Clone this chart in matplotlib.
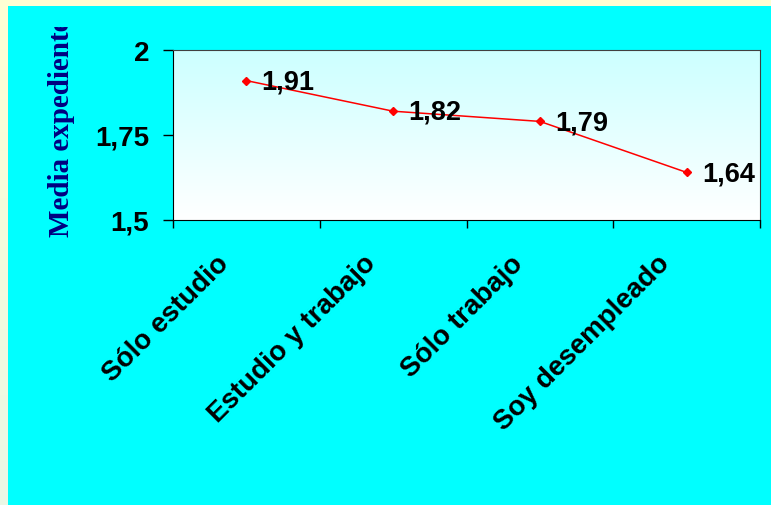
import matplotlib
matplotlib.use("Agg")
import matplotlib.pyplot as plt
import numpy as np
from matplotlib.transforms import Bbox, TransformedBbox, ScaledTranslation
from matplotlib.patches import Rectangle

categories = ["Sólo estudio", "Estudio y trabajo", "Sólo trabajo", "Soy desempleado"]
medias = [1.91, 1.82, 1.79, 1.64]
y_ticks = [1.5, 1.75, 2.0]
y_tick_labels = ["1,5", "1,75", "2"]
y_label = "Media expediente"

W, H, DPI = 771, 506, 100
fig = plt.figure(figsize=(W / DPI, H / DPI), dpi=DPI)
plt.rcParams["font.family"] = ["Liberation Sans", "DejaVu Sans"]

# background: pale yellow frame with cyan panel
bg = fig.add_axes([0, 0, 1, 1], zorder=-10)
grad = np.linspace(0, 1, 256)[:, None]
top_c = np.array([1.0, 1.0, 0.83])
bot_c = np.array([0.92, 0.97, 0.90])
img = top_c * (1 - grad[..., None]) + bot_c * grad[..., None]
bg.imshow(np.repeat(img, 2, axis=1), extent=[0, 1, 0, 1], aspect="auto", origin="upper")
bg.add_patch(Rectangle((8 / W, 0), 1, 1 - 7 / H, color="#00FFFF", lw=0))
bg.set_xlim(0, 1); bg.set_ylim(0, 1)
bg.axis("off")

# plot area
ax = fig.add_axes([173 / W, 1 - 221 / H, (760 - 173) / W, (221 - 51) / H])
n = len(categories)
x = np.arange(n) + 0.5
ax.set_xlim(0, n)
ax.set_ylim(1.5, 2.0)

g = np.linspace(0, 1, 256)[:, None, None]
area = np.array([0.80, 1.0, 1.0]) * (1 - g) + np.array([1.0, 1.0, 1.0]) * g
ax.imshow(np.repeat(area, 2, axis=1), extent=[0, n, 1.5, 2.0], aspect="auto",
          origin="upper", zorder=0)

ax.plot(x, medias, color="#FF0000", lw=1.1, marker="D", ms=4.5, zorder=3)
for xi, v in zip(x, medias):
    ax.annotate(f"{v:.2f}".replace(".", ","), (xi, v), xytext=(11, -0.5),
                textcoords="offset points", ha="left", va="center",
                fontsize=19.5, fontweight="bold", color="black", zorder=4)

# axes styling
for s in ["top", "right"]:
    ax.spines[s].set_color("#404040")
for s in ["left", "bottom"]:
    ax.spines[s].set_color("black")
ax.set_yticks(y_ticks)
ax.set_yticklabels(y_tick_labels, fontsize=20, fontweight="bold")
ax.set_xticks(np.arange(n + 1))
ax.set_xticklabels([])
ax.tick_params(axis="y", direction="out", length=7.2, pad=10, width=1)
ax.tick_params(axis="x", direction="out", length=6, width=1)

# rotated category labels
off = ScaledTranslation(-21 / DPI, -39 / DPI, fig.dpi_scale_trans)
for xi, c in zip(x, categories):
    ax.text(xi, 0, c, transform=ax.get_xaxis_transform() + off,
            rotation=45, rotation_mode="anchor", ha="right", va="center",
            fontsize=20, fontweight="bold", color="black")

# y axis title, clipped at the top like the original
t = fig.text(69 / W, 1 - 237 / H, y_label, rotation=90, rotation_mode="anchor",
             ha="left", va="baseline", fontsize=21, fontweight="bold",
             color="#000080", family=["Liberation Serif", "DejaVu Serif"])
t.set_clip_box(TransformedBbox(Bbox([[0, 0], [1, 1 - 28 / H]]), fig.transFigure))
t.set_clip_on(True)

fig.savefig("out.png", dpi=DPI)
